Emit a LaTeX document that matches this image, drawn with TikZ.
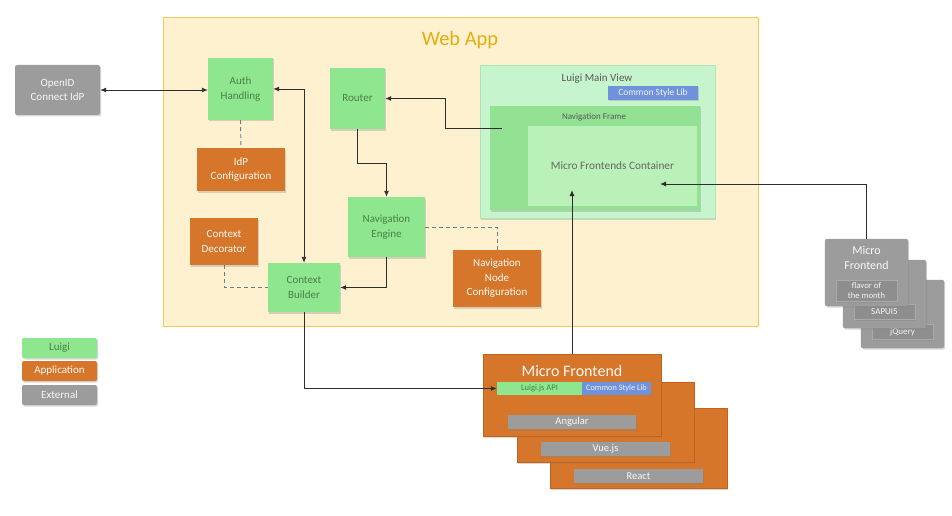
\documentclass[tikz,border=0pt]{standalone}
\usepackage{fontspec}
\setmainfont{Carlito}
\usetikzlibrary{arrows.meta,shadows}
\definecolor{wafill}{HTML}{FDF1CF}
\definecolor{wadraw}{HTML}{F3CB57}
\definecolor{watext}{HTML}{E2AE10}
\definecolor{lgreen}{HTML}{8EE68E}
\definecolor{lgtext}{HTML}{4A804A}
\definecolor{orng}{HTML}{D6762A}
\definecolor{orngdk}{HTML}{C4621B}
\definecolor{gry}{HTML}{9C9C9C}
\definecolor{grydk}{HTML}{8A8A8A}
\definecolor{exbar}{HTML}{8E8E8E}
\definecolor{blu}{HTML}{6E92DC}
\definecolor{mvfill}{HTML}{C6F4CC}
\definecolor{mvdraw}{HTML}{ABE6B3}
\definecolor{nffill}{HTML}{93E293}
\definecolor{mcfill}{HTML}{B9F1B9}
\definecolor{lnk}{HTML}{2E2E2E}
\definecolor{dsh}{HTML}{6F7A8A}
\tikzset{
  shad/.style={drop shadow={shadow xshift=1.2pt,shadow yshift=-1.5pt,opacity=0.3}},
  gbox/.style={shad,fill=lgreen,draw=none,text=lgtext,align=center,inner sep=1pt,font=\fontsize{11}{14.5}\selectfont},
  obox/.style={shad,fill=orng,draw=none,text=white!95!orng,align=center,inner sep=1pt,font=\fontsize{11}{14.5}\selectfont},
  xbox/.style={shad,fill=gry,draw=none,text=white!92!gry,align=center,inner sep=1pt,font=\fontsize{11}{14.5}\selectfont},
  bar/.style={shad,fill=gry,draw=none,text=white!92!gry,align=center,inner sep=0pt,font=\fontsize{10.5}{12}\selectfont},
  xbar/.style={shad,fill=exbar,draw=white!25!exbar,line width=0.5pt,text=white!90!exbar,align=center,inner sep=0pt,font=\fontsize{9}{10}\selectfont},
  bluebar/.style={fill=blu,draw=none,text=white!90!blu,align=center,inner sep=0pt,font=\fontsize{9.5}{11}\selectfont},
  link/.style={draw=lnk,line width=0.9pt,-{Latex[length=6pt,width=5pt]}},
  dlink/.style={draw=dsh,line width=0.9pt,dash pattern=on 4pt off 3pt},
  mfbox/.style={shad,fill=orng,draw=orngdk,line width=0.4pt,inner sep=0pt},
  exbox/.style={shad,fill=gry,draw=grydk!80,line width=0.4pt,rounded corners=2pt,inner sep=0pt},
}
\begin{document}
\begin{tikzpicture}[x=1pt,y=-1pt]
\useasboundingbox[fill=white] (0,0) rectangle (952,516);
% Web App frame
\node[fill=wafill,draw=wadraw,line width=1pt,minimum width=595,minimum height=308,inner sep=0pt] (webapp) at (460.5,172) {};
\node[text=watext,font=\fontsize{20.5}{24}\selectfont] (watitle) at (460,40) {Web App};
% external IdP
\node[xbox,minimum width=85,minimum height=50,rounded corners=2pt] (openid) at (57.5,90) {OpenID\\Connect IdP};
% Luigi nodes
\node[gbox,minimum width=65,minimum height=62] (auth) at (240.5,89) {Auth\\Handling};
\node[obox,minimum width=88,minimum height=43] (idp) at (241,169.5) {IdP\\Configuration};
\node[gbox,minimum width=55,minimum height=61] (router) at (357.5,98.5) {Router};
\node[gbox,minimum width=77,minimum height=60] (naveng) at (386.5,227) {Navigation\\Engine};
\node[obox,minimum width=68,minimum height=47] (ctxdec) at (224,241.5) {Context\\Decorator};
\node[gbox,minimum width=72,minimum height=49] (ctxb) at (304,287.5) {Context\\Builder};
\node[obox,minimum width=88,minimum height=57] (nnc) at (497,278.5) {Navigation\\Node\\Configuration};
% Luigi main view
\node[shad,fill=mvfill,draw=mvdraw,line width=0.6pt,minimum width=235,minimum height=153,inner sep=0pt] (mainview) at (597.5,141.5) {};
\node[text=black!65,font=\fontsize{11}{13}\selectfont] (mvtitle) at (597,79) {Luigi Main View};
\node[bluebar,shad,minimum width=90,minimum height=14] (csl1) at (653,93) {Common Style Lib};
\node[shad,fill=nffill,draw=none,minimum width=210,minimum height=104,inner sep=0pt] (navframe) at (595,158) {};
\node[text=black!65,font=\fontsize{9}{10}\selectfont] (nftitle) at (594,117) {Navigation Frame};
\node[fill=mcfill,draw=none,minimum width=169,minimum height=80,inner sep=0pt,text=black!60,font=\fontsize{11.3}{13}\selectfont] (mfc) at (612.5,166) {Micro Frontends Container};
% legend
\node[gbox,minimum width=75,minimum height=20,rounded corners=2pt] (legluigi) at (59.5,348) {Luigi};
\node[obox,minimum width=75,minimum height=20,rounded corners=2pt] (legapp) at (59.5,371) {Application};
\node[xbox,minimum width=75,minimum height=20,rounded corners=2pt] (legext) at (59.5,395) {External};
% micro frontend stack
\node[mfbox,minimum width=177,minimum height=80] (mf3) at (638.5,448) {};
\node[bar,minimum width=129,minimum height=14] (react) at (638.5,476) {React};
\node[mfbox,minimum width=177,minimum height=80] (mf2) at (605.5,422) {};
\node[bar,minimum width=129,minimum height=14] (vue) at (605.5,449) {Vue.js};
\node[mfbox,minimum width=178,minimum height=82] (mf1) at (572,395) {};
\node[text=white!95!orng,font=\fontsize{16}{18}\selectfont] (mftitle) at (572,371) {Micro Frontend};
\node[fill=lgreen,draw=none,text=lgtext,inner sep=0pt,minimum width=85,minimum height=13,font=\fontsize{8.5}{9}\selectfont] (api) at (539.5,388.5) {Luigi.js API};
\node[bluebar,minimum width=69,minimum height=13,font=\fontsize{8.3}{9}\selectfont] (csl2) at (616.5,388.5) {Common Style Lib};
\node[bar,minimum width=128,minimum height=14] (angular) at (572,422) {Angular};
% external micro frontends
\node[exbox,minimum width=83,minimum height=68] (ext3) at (902.5,314) {};
\node[xbar,minimum width=61,minimum height=15] (jquery) at (902.5,332) {jQuery};
\node[exbox,minimum width=83,minimum height=68] (ext2) at (884.5,294) {};
\node[xbar,minimum width=61,minimum height=15] (sapui5) at (884.5,311.5) {SAPUI5};
\node[exbox,minimum width=83,minimum height=67] (ext1) at (866.5,272.5) {};
\node[text=white!92!gry,align=center,font=\fontsize{12}{15}\selectfont] (exttitle) at (866.5,258) {Micro\\Frontend};
\node[xbar,minimum width=61,minimum height=21,font=\fontsize{8.7}{10}\selectfont] (flavor) at (866.5,290.5) {flavor of\\the month};
% connectors
\draw[link,{Latex[length=6pt,width=5pt]}-{Latex[length=6pt,width=5pt]}] (openid.east) -- (openid.east -| auth.west);
\draw[link,{Latex[length=6pt,width=5pt]}-{Latex[length=6pt,width=5pt]}] (auth.east) -| (ctxb.north);
\draw[dlink] (auth.south) -- (idp.north);
\coordinate (nfp) at (502,128);
\draw[link] (nfp) -- (445,128) |- (router.east);
\draw[link] (router.south) -- (357.5,163) -| (naveng.north);
\draw[link] (naveng.south) |- (ctxb.east);
\draw[dlink] (naveng.east) -| (nnc.north);
\draw[dlink] (ctxdec.south) |- (ctxb.west);
\draw[link] (ctxb.south) |- (api.west);
\coordinate (mfcin) at (573,190);
\draw[link] (mf1.north) -- (mf1.north |- mfcin);
\coordinate (mfcin2) at (660,184);
\draw[link] (ext1.north) |- (mfcin2);
\end{tikzpicture}
\end{document}
